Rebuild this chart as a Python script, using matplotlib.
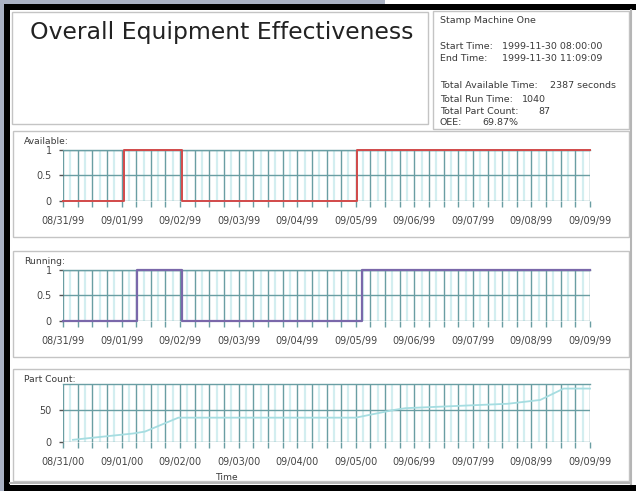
import numpy as np
import matplotlib
matplotlib.use('Agg')
import matplotlib.pyplot as plt
from matplotlib.patches import Rectangle

# ---------------- data ----------------
title = "Overall Equipment Effectiveness"
machine = "Stamp Machine One"
info_labels = ["Start Time:", "End Time:", "Total Available Time:", "Total Run Time:",
               "Total Part Count:", "OEE:"]
info_values = ["1999-11-30 08:00:00", "1999-11-30 11:09:09", "2387 seconds", "1040",
               "87", "69.87%"]

x_labels_12 = ["08/31/99", "09/01/99", "09/02/99", "09/03/99", "09/04/99",
               "09/05/99", "09/06/99", "09/07/99", "09/08/99", "09/09/99"]
x_labels_3 = ["08/31/00", "09/01/00", "09/02/00", "09/03/00", "09/04/00",
              "09/05/00", "09/06/99", "09/07/99", "09/08/99", "09/09/99"]

avail_x = [0, 1.04, 2.04, 5.02, 9.0]
avail_y = [0, 1, 0, 1, 1]
run_x = [0, 1.27, 2.04, 5.11, 9.0]
run_y = [0, 1, 0, 1, 1]
parts_x = [0.17, 1.2, 1.4, 1.97, 5.0, 5.64, 5.85, 7.6, 8.15, 8.55, 9.0]
parts_y = [3, 13, 16, 38, 38, 50, 53, 60, 66, 84, 84]

panel_names = ["Available:", "Running:", "Part Count:"]

# ---------------- figure ----------------
W, H = 636, 491
fig = plt.figure(figsize=(W / 100, H / 100), dpi=100)
fig.patch.set_facecolor('white')

def rect(x0, y0, x1, y1):
    return [x0 / W, 1 - y1 / H, (x1 - x0) / W, (y1 - y0) / H]

bg = fig.add_axes([0, 0, 1, 1], zorder=-5)
bg.set_xlim(0, W)
bg.set_ylim(H, 0)
bg.axis('off')

def box(x0, y0, x1, y1, fc='none', ec='none', lw=0):
    bg.add_patch(Rectangle((x0, y0), x1 - x0, y1 - y0, facecolor=fc, edgecolor=ec, lw=lw))

gb = '#a9b1c3'
box(0, 0, 385, 5, fc=gb)
box(0, 0, 4, H, fc=gb)
box(4, 4, W, 10, fc='black')
box(4, 4, 10, H, fc='black')
box(4, 485, W, H, fc='black')
bg.plot([630.5, 630.5], [10, 484], color='#b5b5b5', lw=1.5)
bg.plot([10, 630], [482.5, 482.5], color='#b5b5b5', lw=1.5)

bc = '#c4c4c4'
box(12, 12, 428, 124, ec=bc, lw=1)
box(433, 11, 629, 129, ec=bc, lw=1)
box(13, 131, 629, 237, ec=bc, lw=1)
box(13, 251, 629, 357, ec=bc, lw=1)
box(13, 369, 629, 481, ec=bc, lw=1)

bg.text(30, 32, title, fontsize=16.9, color='#222222', va='center', ha='left')

tc = '#3a3a3a'
fs_info = 6.8
bg.text(440, 20, machine, fontsize=fs_info, color=tc, va='center')
lab_y = [46, 58, 85, 99, 111, 122]
val_x = [502, 502, 550, 522, 538, 482]
for lab, val, yy, vx in zip(info_labels, info_values, lab_y, val_x):
    bg.text(440, yy, lab, fontsize=fs_info, color=tc, va='center')
    bg.text(vx, yy, val, fontsize=fs_info, color=tc, va='center')

bg.text(24, 142, panel_names[0], fontsize=6.6, color=tc, va='center')
bg.text(24, 262, panel_names[1], fontsize=6.6, color=tc, va='center')
bg.text(24, 380, panel_names[2], fontsize=6.6, color=tc, va='center')
bg.text(227, 478, "Time", fontsize=6.6, color=tc, va='center', ha='center')

major_c = '#6a9ea3'
minor_c = '#d3eef0'

def style(ax, xlabels, yticks, ylabels, ylim):
    ax.set_xlim(0, 9)
    ax.set_ylim(*ylim)
    for k, s in ax.spines.items():
        s.set_visible(k == 'top')
    ax.spines['top'].set_color(major_c)
    ax.spines['top'].set_linewidth(1.0)
    ax.vlines(np.arange(0.125, 9, 0.25), ylim[0], ylim[1], color=minor_c, lw=1.6, zorder=0)
    ax.set_xticks(range(10))
    ax.set_xticklabels(xlabels)
    ax.set_xticks(np.arange(0, 9.01, 0.25), minor=True)
    ax.set_yticks(yticks)
    ax.set_yticklabels(ylabels)
    ax.grid(True, which='both', axis='x', color=major_c, lw=1.0, zorder=1)
    ax.grid(True, which='major', axis='y', color=major_c, lw=1.0, zorder=1)
    ax.set_axisbelow(True)
    ax.tick_params(axis='x', which='both', length=4, width=1, color=major_c,
                   labelsize=6.9, labelcolor='#444444', pad=7)
    ax.tick_params(axis='y', which='major', length=3, width=1, color='#555555',
                   labelsize=6.9, labelcolor='#444444', pad=5)
    ax.patch.set_alpha(0)

ax1 = fig.add_axes(rect(63, 150, 590, 200.7))
style(ax1, x_labels_12, [0, 0.5, 1], ["0", "0.5", "1"], (0, 1))
ax1.step(avail_x, avail_y, where='post', color='#d24a4a', lw=1.4, clip_on=False, zorder=3)

ax2 = fig.add_axes(rect(63, 269.5, 590, 321.2))
style(ax2, x_labels_12, [0, 0.5, 1], ["0", "0.5", "1"], (0, 1))
ax2.step(run_x, run_y, where='post', color='#7a68aa', lw=1.6, clip_on=False, zorder=3)

ax3 = fig.add_axes(rect(63, 383.5, 590, 441.7))
style(ax3, x_labels_3, [0, 50], ["0", "50"], (0, 92))
ax3.plot(parts_x, parts_y, color='#a6dde1', lw=1.3, clip_on=False, zorder=3)

fig.savefig('out.png', dpi=100)
